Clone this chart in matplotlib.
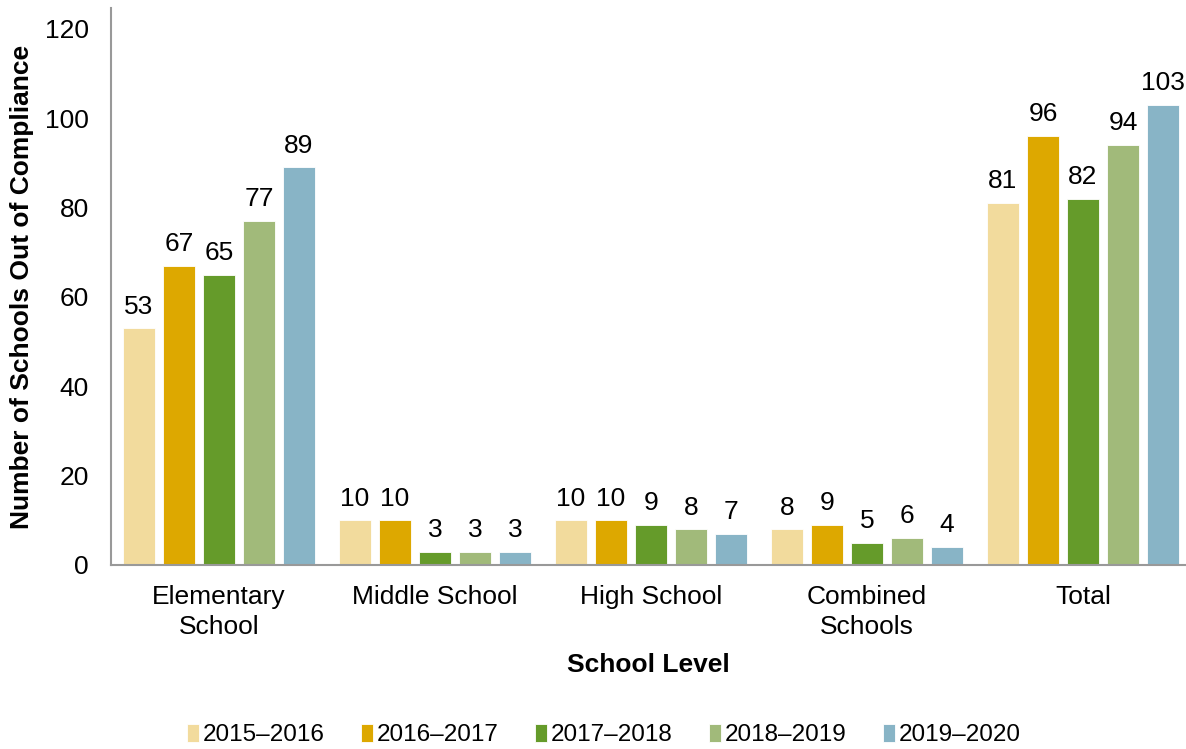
import numpy as np
import matplotlib
matplotlib.use("Agg")
import matplotlib.pyplot as plt

plt.rcParams['font.family'] = ['Liberation Sans', 'DejaVu Sans']

# school levels and yearly counts of schools out of compliance
levels = ["Elementary\nSchool", "Middle School", "High School", "Combined\nSchools", "Total"]
years = ["2015\u20132016", "2016\u20132017", "2017\u20132018", "2018\u20132019", "2019\u20132020"]
counts_2015 = [53, 10, 10, 8, 81]
counts_2016 = [67, 10, 10, 9, 96]
counts_2017 = [65, 3, 9, 5, 82]
counts_2018 = [77, 3, 8, 6, 94]
counts_2019 = [89, 3, 7, 4, 103]
series = [counts_2015, counts_2016, counts_2017, counts_2018, counts_2019]
colors = ["#F2DB9D", "#DDA800", "#659B2A", "#A1BA7A", "#88B4C6"]

fig = plt.figure(figsize=(11.86, 7.49), dpi=100)
ax = fig.add_axes([111/1186, 1 - 565/749, 1 - 111/1186, (565 - 8)/749])

x = np.arange(len(levels))
step = 40/216
width = 32/216
for k, (vals, col, yr) in enumerate(zip(series, colors, years)):
    pos = x + (k - 2)*step
    ax.bar(pos, vals, width, color=col, label=yr, edgecolor="white", linewidth=0.6)
    for p, v in zip(pos, vals):
        ax.annotate(str(v), (p, v), xytext=(0, 7), textcoords="offset points",
                    ha="center", va="bottom", fontsize=19)

ax.set_xlim(-0.5, (1186 - 219)/216)
ax.set_ylim(0, 120*557/536)
ax.set_yticks(np.arange(0, 121, 20))
ax.set_xticks(x)
ax.set_xticklabels(levels, fontsize=19, linespacing=1.3)
ax.tick_params(axis="y", labelsize=19, length=0, pad=16)
ax.tick_params(axis="x", length=0, pad=14.5)

for s in ["top", "right"]:
    ax.spines[s].set_visible(False)
for s in ["left", "bottom"]:
    ax.spines[s].set_color("#999999")
    ax.spines[s].set_linewidth(1.5)

ax.set_ylabel("Number of Schools Out of Compliance", fontsize=19, fontweight="bold", labelpad=8)
ax.set_xlabel("School Level", fontsize=19, fontweight="bold", labelpad=10)

fig.legend(loc="center", bbox_to_anchor=(604/1186, 1 - 735/749), ncol=5, frameon=False,
           fontsize=17.5, handlelength=0.5, handleheight=0.75, handletextpad=0.15,
           columnspacing=1.5)

fig.savefig("out.png", dpi=100)
